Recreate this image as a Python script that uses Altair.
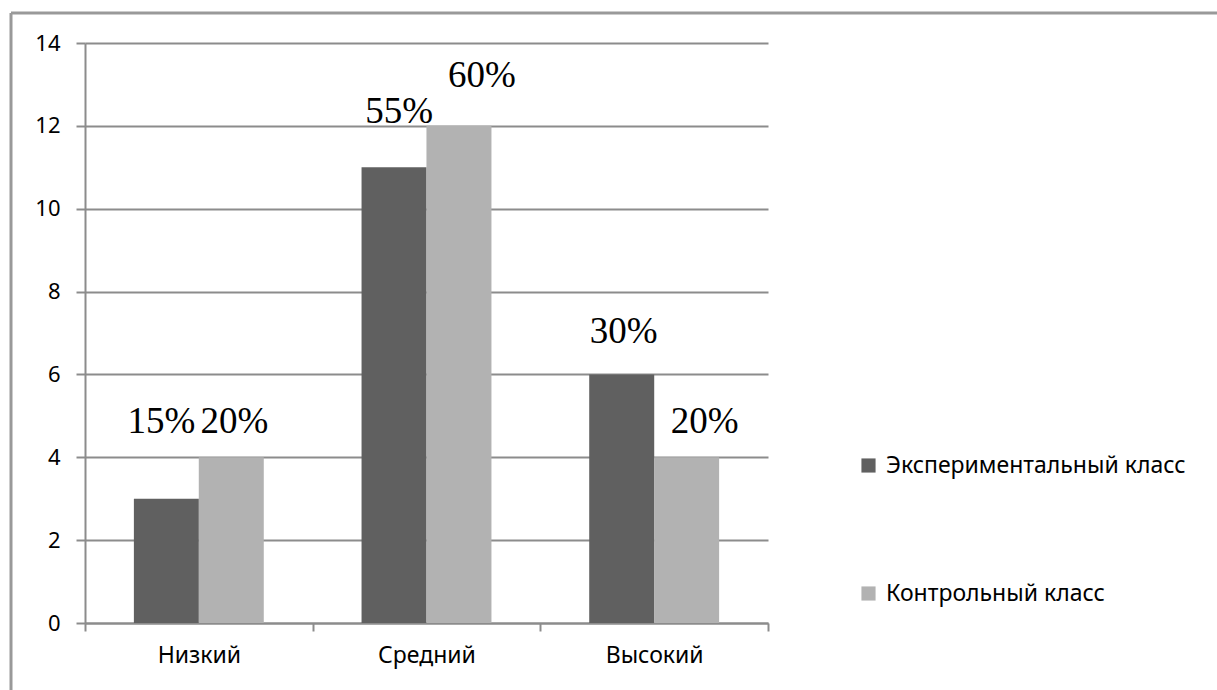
import altair as alt
import pandas as pd

categories = ["Низкий", "Средний", "Высокий"]
series = ["Экспериментальный класс", "Контрольный класс"]
exp_values = [3, 11, 6]
ctl_values = [4, 12, 4]
exp_labels = ["15%", "55%", "30%"]
ctl_labels = ["20%", "60%", "20%"]
# label baseline heights (data units) and horizontal nudges
exp_label_y = [4.59, 12.07, 6.76]
ctl_label_y = [4.59, 12.94, 4.59]
exp_label_dx = [-5, 5, 2]
ctl_label_dx = [3, 23, 18]
y_ticks = [0, 2, 4, 6, 8, 10, 12, 14]

rows = []
for i, c in enumerate(categories):
    rows.append(dict(cat=c, series=series[0], value=exp_values[i], label=exp_labels[i],
                     ly=exp_label_y[i], dx=exp_label_dx[i]))
    rows.append(dict(cat=c, series=series[1], value=ctl_values[i], label=ctl_labels[i],
                     ly=ctl_label_y[i], dx=ctl_label_dx[i]))
df = pd.DataFrame(rows)

W, H = 683, 580
GRID = "#8c8c8c"
FONT = "Noto Sans"

xenc = alt.X("cat:N", sort=categories, title=None,
             scale=alt.Scale(paddingInner=0, paddingOuter=0),
             axis=alt.Axis(labelAngle=0, labelFontSize=23, labelFont=FONT, labelColor="#000",
                           domainColor=GRID, domainWidth=2, tickColor=GRID, tickWidth=2,
                           tickSize=8, tickBand="extent", labelPadding=13))
xoff = alt.XOffset("series:N", sort=series,
                   scale=alt.Scale(paddingInner=0, paddingOuter=0.754))

bars = alt.Chart(df).mark_bar(size=65).encode(
    x=xenc,
    xOffset=xoff,
    y=alt.Y("value:Q", title=None,
            scale=alt.Scale(domain=[0, 14], nice=False),
            axis=alt.Axis(values=y_ticks, grid=True, gridColor=GRID, gridWidth=2,
                          domainColor=GRID, domainWidth=2, tickColor=GRID, tickWidth=2,
                          tickSize=9, labelFontSize=22, labelFont=FONT, labelColor="#000",
                          labelPadding=16)),
    color=alt.Color("series:N", sort=series,
                    scale=alt.Scale(domain=series, range=["#606060", "#b2b2b2"]),
                    legend=alt.Legend(title=None, orient="none", legendX=772, legendY=411,
                                      symbolType="square", symbolSize=200, symbolStrokeWidth=0,
                                      labelFontSize=23, labelFont=FONT, labelColor="#000",
                                      labelLimit=0, rowPadding=104, labelOffset=6)),
)

label_layers = []
for d in sorted(df["dx"].unique()):
    label_layers.append(
        alt.Chart(df[df["dx"] == d]).mark_text(font="Liberation Serif", fontSize=37, color="#000",
                                               baseline="alphabetic", align="center", dx=int(d)).encode(
            x=alt.X("cat:N", sort=categories),
            xOffset=xoff,
            y=alt.Y("ly:Q"),
            text="label:N",
        )
    )

frame_top = alt.Chart(pd.DataFrame({"a": [0]})).mark_rule(color="#999999", strokeWidth=3).encode(
    x=alt.value(-74), x2=alt.value(1217 - 85 + 5), y=alt.value(-30))
frame_left = alt.Chart(pd.DataFrame({"a": [0]})).mark_rule(color="#999999", strokeWidth=3).encode(
    x=alt.value(-74), y=alt.value(-30), y2=alt.value(700))

chart = alt.layer(bars, *label_layers, frame_top, frame_left).properties(
    width=W, height=H,
    autosize=alt.AutoSizeParams(type="none"),
    padding={"left": 85, "top": 43, "right": 1217 - 85 - W, "bottom": 690 - 43 - H},
    background="white",
).configure_view(stroke=None)

chart.save("out.html", embed_options={"renderer": "svg", "actions": False})
